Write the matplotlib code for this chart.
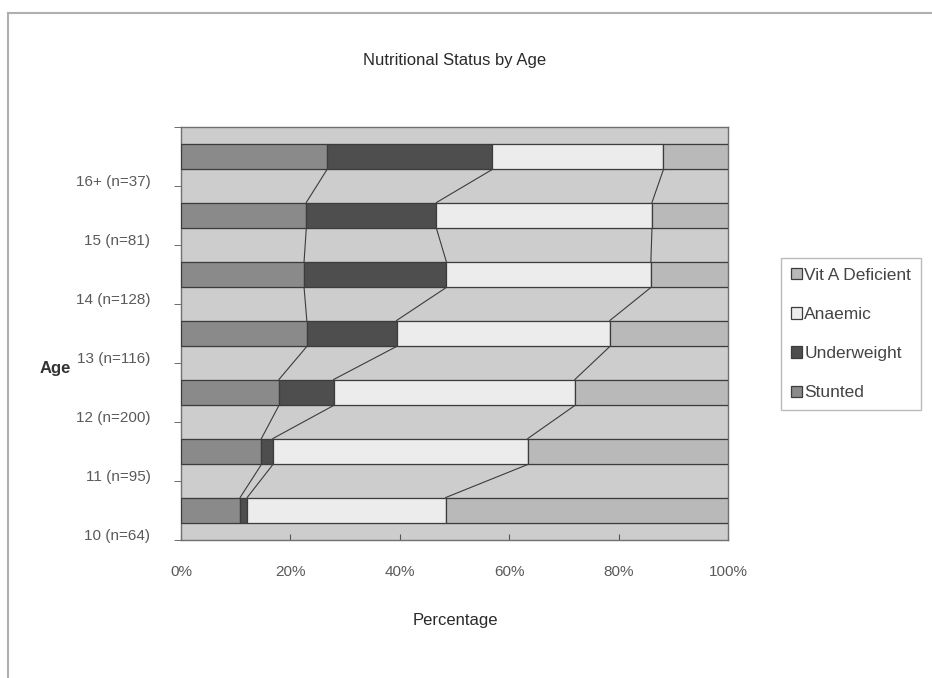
import matplotlib.pyplot as plt
import numpy as np

plt.rcParams['font.family'] = ['Liberation Sans Narrow', 'Liberation Sans', 'DejaVu Sans']

# age groups, bottom to top
ages = ['10 (n=64)', '11 (n=95)', '12 (n=200)', '13 (n=116)',
        '14 (n=128)', '15 (n=81)', '16+ (n=37)']

# percentage of each group (segments of the 100% stacked bars)
stunted = [10.8, 14.7, 17.9, 23.0, 22.5, 22.9, 26.7]
underweight = [1.3, 2.1, 10.0, 16.4, 26.0, 23.8, 30.2]
anaemic = [36.3, 46.6, 44.1, 39.0, 37.4, 39.4, 31.3]
vit_a = [51.6, 36.6, 28.0, 21.6, 14.1, 13.9, 11.8]

series = [('Stunted', stunted, '#8a8a8a'),
          ('Underweight', underweight, '#4e4e4e'),
          ('Anaemic', anaemic, '#ececec'),
          ('Vit A Deficient', vit_a, '#b9b9b9')]

fig = plt.figure(figsize=(9.32, 6.78), dpi=100)
ax = fig.add_axes([181 / 932, 1 - 540 / 678, 547 / 932, 413 / 678])
ax.set_facecolor('#cdcdcd')

y = np.arange(len(ages))
h = 0.44
left = np.zeros(len(ages))
bars = []
for name, vals, col in series:
    b = ax.barh(y, vals, height=h, left=left, color=col, edgecolor='#3c3c3c',
                linewidth=0.9, label=name, zorder=3)
    bars.append(b)
    left = left + np.array(vals)
    # series lines from the top of one bar to the bottom of the next
    if name != 'Vit A Deficient':
        for i in range(len(ages) - 1):
            ax.plot([left[i], left[i + 1]], [y[i] + h / 2, y[i + 1] - h / 2],
                    color='#3c3c3c', lw=0.8, zorder=2)

# horizontal lines carried across the plot at each bar edge
for yi in y:
    ax.axhline(yi + h / 2, color='#555555', lw=0.8, zorder=1)
    ax.axhline(yi - h / 2, color='#555555', lw=0.8, zorder=1)

ax.set_xlim(0, 100)
ax.set_ylim(-0.5, len(ages) - 0.5)
ax.set_xticks(np.arange(0, 101, 20))
ax.set_xticklabels([f'{v}%' for v in range(0, 101, 20)])
ax.set_yticks(y - 0.41)
ax.set_yticklabels(ages)
ax.set_yticks(np.arange(-0.5, len(ages), 1.0), minor=True)
ax.tick_params(axis='y', which='major', length=0, pad=22)
ax.tick_params(axis='y', which='minor', length=5, color='#555555')
ax.tick_params(axis='x', length=4, direction='in', color='#555555', pad=18)
ax.tick_params(labelsize=11, labelcolor='#5a5a5a')
for s in ax.spines.values():
    s.set_color('#707070')
    s.set_linewidth(1.0)

fig.text(455 / 932, 1 - 60 / 678, 'Nutritional Status by Age', ha='center',
         va='center', fontsize=12, color='#2a2a2a')
fig.text(455 / 932, 1 - 620 / 678, 'Percentage', ha='center', va='center',
         fontsize=12, color='#2a2a2a')
fig.text(55 / 932, 1 - 368 / 678, 'Age', ha='center', va='center',
         fontsize=12, color='#333333', fontweight='bold')

handles = bars[::-1]
leg = ax.legend(handles=handles, labels=[s[0] for s in series[::-1]],
                loc='center left', bbox_to_anchor=(781 / 932, 1 - 334 / 678),
                bbox_transform=fig.transFigure, frameon=True, fancybox=False,
                fontsize=12.5, handlelength=0.65, handleheight=0.65,
                handletextpad=0.15, labelspacing=1.4, borderpad=0.55,
                borderaxespad=0, labelcolor='#444444')
leg.get_frame().set_edgecolor('#aaaaaa')
leg.get_frame().set_linewidth(1.0)

# outer chart border (top and left edges)
fig.add_artist(plt.Line2D([8 / 932, 1], [1 - 13 / 678, 1 - 13 / 678],
                          transform=fig.transFigure, color='#b0b0b0', lw=1.5))
fig.add_artist(plt.Line2D([8 / 932, 8 / 932], [0, 1 - 13 / 678],
                          transform=fig.transFigure, color='#b0b0b0', lw=1.5))

fig.savefig('out.png', dpi=100)
